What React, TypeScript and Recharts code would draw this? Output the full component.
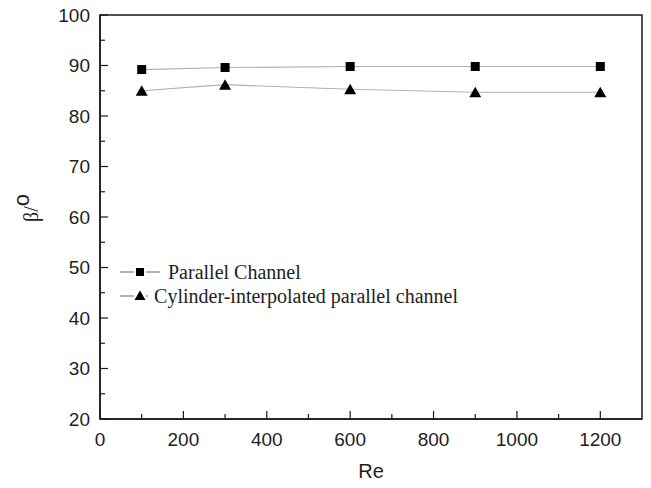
import React from 'react';
import { LineChart, Line, XAxis, YAxis, ReferenceArea, Legend, Label } from 'recharts';

const reValues = [100, 300, 600, 900, 1200];
const parallelChannel = [89.2, 89.6, 89.8, 89.8, 89.8];
const cylinderChannel = [85.0, 86.2, 85.3, 84.7, 84.7];
const seriesNames = ['Parallel Channel', 'Cylinder-interpolated parallel channel'];
const xTicks = [0, 100, 200, 300, 400, 500, 600, 700, 800, 900, 1000, 1100, 1200];
const xMajor = [0, 200, 400, 600, 800, 1000, 1200];
const yTicks = [20, 25, 30, 35, 40, 45, 50, 55, 60, 65, 70, 75, 80, 85, 90, 95, 100];
const yMajor = [20, 30, 40, 50, 60, 70, 80, 90, 100];
const xDomain = [0, 1300];
const yDomain = [20, 100];

const data = reValues.map((re, i) => ({ re, parallel: parallelChannel[i], cylinder: cylinderChannel[i] }));

const AXIS = '#1a1a1a';
const TEXT = '#1e1e1e';
const SERIES_LINE = '#b0b0b0';
const SANS = '"Liberation Sans", Arial, sans-serif';
const SERIF = '"Liberation Serif", "Times New Roman", serif';

const Y_MARGIN = 10;
const X_MARGIN = 13;

const YTick = (props: any) => {
  const { x, y, payload } = props;
  const v = payload.value;
  const major = yMajor.includes(v);
  const ax = x + Y_MARGIN;
  return (
    <g>
      <line x1={ax} x2={ax + (major ? 8 : 5)} y1={y} y2={y} stroke={AXIS} strokeWidth={1.2} />
      {major && (
        <text x={x} y={y} dy="0.36em" textAnchor="end" fontFamily={SANS} fontSize={19} fill={TEXT}>
          {v}
        </text>
      )}
    </g>
  );
};

const XTick = (props: any) => {
  const { x, y, payload } = props;
  const v = payload.value;
  const major = xMajor.includes(v);
  const ay = y - X_MARGIN;
  return (
    <g>
      <line x1={x} x2={x} y1={ay} y2={ay - (major ? 8 : 5)} stroke={AXIS} strokeWidth={1.2} />
      {major && (
        <text x={x} y={y} dy="0.72em" textAnchor="middle" fontFamily={SANS} fontSize={19} fill={TEXT}>
          {v}
        </text>
      )}
    </g>
  );
};

const SquareDot = (props: any) => {
  const { cx, cy, index } = props;
  return <rect key={`s${index}`} x={cx - 4.5} y={cy - 4.5} width={9} height={9} fill="#000" />;
};

const TriangleDot = (props: any) => {
  const { cx, cy, index } = props;
  return (
    <polygon
      key={`t${index}`}
      points={`${cx},${cy - 5.5} ${cx - 6},${cy + 5} ${cx + 6},${cy + 5}`}
      fill="#000"
    />
  );
};

const YLabel = (props: any) => {
  const { viewBox } = props;
  const cx = viewBox.x + 38;
  const cy = viewBox.y + viewBox.height / 2 - 9;
  return (
    <text
      x={cx}
      y={cy}
      transform={`rotate(-90, ${cx}, ${cy})`}
      textAnchor="middle"
      fontFamily={SERIF}
      fontSize={20}
      fill={TEXT}
    >
      β/<tspan dy={-9} fontFamily={SANS} fontSize={22}>ο</tspan>
    </text>
  );
};

const LegendContent = () => {
  const row = (i: number) => (
    <div key={i} style={{ display: 'flex', alignItems: 'center', height: 24 }}>
      <svg width={44} height={20} style={{ display: 'block' }}>
        <line x1={2} x2={16} y1={10} y2={10} stroke="#666" strokeWidth={1} />
        {i === 0 ? (
          <rect x={18} y={6} width={8} height={8} fill="#000" />
        ) : (
          <polygon points="22,4.5 16.5,14 27.5,14" fill="#000" />
        )}
        <line x1={28} x2={42} y1={10} y2={10} stroke="#666" strokeWidth={1} />
      </svg>
      <span style={{ fontFamily: SERIF, fontSize: 20, color: TEXT, marginLeft: 6, whiteSpace: 'nowrap' }}>
        {seriesNames[i]}
      </span>
    </div>
  );
  return <div>{[0, 1].map(row)}</div>;
};

export default function App() {
  return (
    <div style={{ position: 'absolute', left: 0, top: 0, width: 651, height: 488, background: '#fff' }}>
      <LineChart width={651} height={488} data={data} margin={{ top: 15, right: 9, bottom: 0, left: 0 }}>
        <XAxis
          dataKey="re"
          type="number"
          domain={xDomain}
          ticks={xTicks}
          interval={0}
          height={69}
          tickSize={0}
          tickMargin={X_MARGIN}
          tick={<XTick />}
          axisLine={{ stroke: AXIS, strokeWidth: 1.5 }}
          tickLine={false}
          allowDataOverflow
        >
          <Label value="Re" position="insideBottom" offset={10} fontFamily={SANS} fontSize={20} fill={TEXT} />
        </XAxis>
        <YAxis
          type="number"
          domain={yDomain}
          ticks={yTicks}
          interval={0}
          width={100}
          tickSize={0}
          tickMargin={Y_MARGIN}
          tick={<YTick />}
          axisLine={{ stroke: AXIS, strokeWidth: 1.5 }}
          tickLine={false}
          allowDataOverflow
        >
          <Label content={<YLabel />} />
        </YAxis>
        <ReferenceArea x1={xDomain[0]} x2={xDomain[1]} y1={yDomain[0]} y2={yDomain[1]} fill="none" stroke={AXIS} strokeWidth={1.5} ifOverflow="visible" />
        <Legend
          layout="vertical"
          align="center"
          verticalAlign="middle"
          content={<LegendContent />}
          wrapperStyle={{ left: 118, top: 260, width: 340 }}
        />
        <Line
          dataKey="parallel"
          name={seriesNames[0]}
          stroke={SERIES_LINE}
          strokeWidth={1.2}
          dot={<SquareDot />}
          isAnimationActive={false}
        />
        <Line
          dataKey="cylinder"
          name={seriesNames[1]}
          stroke={SERIES_LINE}
          strokeWidth={1.2}
          dot={<TriangleDot />}
          isAnimationActive={false}
        />
      </LineChart>
    </div>
  );
}
